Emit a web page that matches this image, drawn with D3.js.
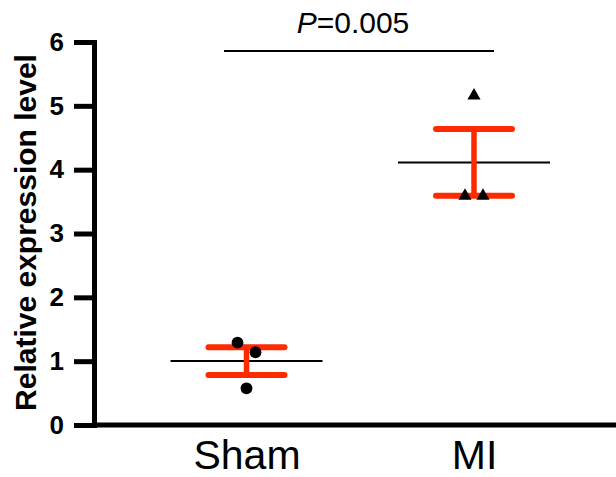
<!DOCTYPE html>
<html>
<head>
<meta charset="utf-8">
<script src="https://cdn.jsdelivr.net/npm/d3@7"></script>
<style>
  body { margin: 0; background: #fff; }
  svg { display: block; font-family: Arial, "Liberation Sans", sans-serif; }
</style>
</head>
<body>
<svg id="chart" width="616" height="477"></svg>
<script>
// data
var groups = ["Sham", "MI"];
var shamValues = [1.29, 1.14, 0.575];
var miValues = [5.16, 3.59, 3.59];
var yTicks = [0, 1, 2, 3, 4, 5, 6];
var pLabel = "0.005";

// small horizontal spread of the points inside a column (px)
var shamJitter = [-9, 9, 0];
var miJitter = [0, -9, 9];

var RED = "#ff2a00";
var svg = d3.select("#chart");

var y = d3.scaleLinear().domain([0, 6]).range([425, 42]);
var x = d3.scalePoint().domain(groups).range([246.5, 474]);

function mean(v) { return d3.mean(v); }
function sem(v) { return d3.deviation(v) / Math.sqrt(v.length); }

// y axis
var yAxis = svg.append("g")
    .attr("transform", "translate(94,0)")
    .call(d3.axisLeft(y).tickValues(yTicks).tickFormat(d3.format("d"))
        .tickSize(20).tickSizeOuter(0).tickPadding(10));
yAxis.selectAll("path, line").style("stroke", "black").style("stroke-width", 5);
yAxis.select(".domain").attr("stroke-linecap", "square");
yAxis.selectAll("text")
    .style("font-size", "26px")
    .style("font-weight", "bold")
    .style("font-family", "Arial, 'Liberation Sans', sans-serif")
    .attr("fill", "black");

// x axis
var xAxis = svg.append("g")
    .attr("transform", "translate(0,425)")
    .call(d3.axisBottom(x).tickSize(0).tickPadding(15));
xAxis.select(".domain").remove();
xAxis.selectAll("text")
    .style("font-size", "41px")
    .style("font-family", "Arial, 'Liberation Sans', sans-serif")
    .attr("fill", "black");
svg.append("line")
    .attr("x1", 92).attr("x2", 616)
    .attr("y1", y(0)).attr("y2", y(0))
    .style("stroke", "black").style("stroke-width", 5);

// y title
svg.append("text")
    .attr("transform", "translate(36," + (y(3) - 1) + ") rotate(-90)")
    .attr("text-anchor", "middle")
    .style("font-size", "30px")
    .style("font-weight", "bold")
    .text("Relative expression level");

// mean line, SEM bars and points for each group
var series = [
    { name: "Sham", values: shamValues, jitter: shamJitter, shape: d3.symbolCircle },
    { name: "MI", values: miValues, jitter: miJitter, shape: d3.symbolTriangle }
];

series.forEach(function(s) {
    var cx = x(s.name);
    var m = mean(s.values);
    var e = sem(s.values);
    var g = svg.append("g").attr("class", "group");

    g.append("line")
        .attr("class", "meanLine")
        .attr("x1", cx - 76).attr("x2", cx + 76)
        .attr("y1", y(m)).attr("y2", y(m))
        .style("stroke", "black").style("stroke-width", 2);

    g.append("line")
        .attr("class", "errStem")
        .attr("x1", cx).attr("x2", cx)
        .attr("y1", y(m + e)).attr("y2", y(m - e))
        .style("stroke", RED).style("stroke-width", 5.5);

    [m + e, m - e].forEach(function(v) {
        g.append("line")
            .attr("class", "errCap")
            .attr("x1", cx - 38).attr("x2", cx + 38)
            .attr("y1", y(v)).attr("y2", y(v))
            .style("stroke", RED).style("stroke-width", 6)
            .attr("stroke-linecap", "round");
    });

    g.selectAll("path.point")
        .data(s.values)
        .join("path")
        .attr("class", "point")
        .attr("d", d3.symbol().type(s.shape).size(s.shape === d3.symbolCircle ? 110 : 75))
        .attr("transform", function(d, i) {
            return "translate(" + (cx + s.jitter[i]) + "," + y(d) + ")";
        })
        .style("fill", "black");
});

// significance bar
svg.append("line")
    .attr("x1", 224).attr("x2", 494)
    .attr("y1", 51).attr("y2", 51)
    .style("stroke", "black").style("stroke-width", 2);
var pText = svg.append("text")
    .attr("x", 353).attr("y", 33)
    .attr("text-anchor", "middle")
    .style("font-size", "30px");
pText.append("tspan").style("font-style", "italic").text("P");
pText.append("tspan").text("=" + pLabel);
</script>
</body>
</html>
